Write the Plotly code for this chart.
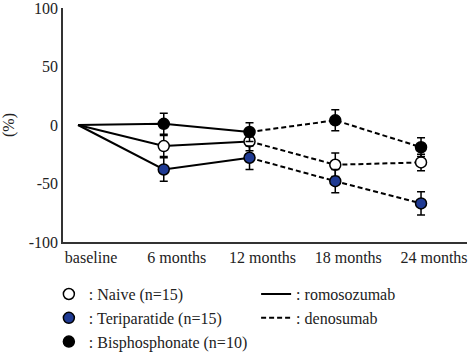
import plotly.graph_objects as go

categories = ["baseline", "6 months", "12 months", "18 months", "24 months"]
naive = [0, -18, -14, -34, -32]
naive_err = [0, 9, 8, 10, 7]
teri = [0, -38, -28, -48, -67]
teri_err = [0, 10, 10, 10, 10]
bisph = [0, 1, -6, 4, -19]
bisph_err = [0, 9, 8, 9, 8]
y_ticks = [100, 50, 0, -50, -100]
y_ticktext = ["100", "50", "0", "-50", "-100"]

FONT = "Liberation Serif"
BLUE = "#1f3a93"
FS = 16

fig = go.Figure()

# lines: solid (baseline..12 months), dashed (12..24 months)
for i, ys in enumerate([naive, teri, bisph]):
    fig.add_trace(go.Scatter(
        x=categories[:3], y=ys[:3], mode="lines",
        line=dict(color="black", width=2),
        name=": romosozumab", legend="legend2", showlegend=(i == 0),
        hoverinfo="skip"))
for i, ys in enumerate([naive, teri, bisph]):
    fig.add_trace(go.Scatter(
        x=categories[2:], y=ys[2:], mode="lines",
        line=dict(color="black", width=2, dash="5px,3px"),
        name=": denosumab", legend="legend2", showlegend=(i == 0),
        hoverinfo="skip"))

groups = [
    (": Naive (n=15)", naive, naive_err, "white"),
    (": Teriparatide (n=15)", teri, teri_err, BLUE),
    (": Bisphosphonate (n=10)", bisph, bisph_err, "black"),
]
for name, ys, errs, col in groups:
    fig.add_trace(go.Scatter(
        x=categories[1:], y=ys[1:], mode="markers",
        marker=dict(size=11, color=col, line=dict(color="black", width=1.5)),
        error_y=dict(type="data", array=errs[1:], color="black", thickness=1.5, width=4),
        name=name, legend="legend", legendgroup=name))

fig.update_layout(
    width=469, height=354,
    margin=dict(l=63, r=2, t=8, b=112, autoexpand=False),
    paper_bgcolor="white", plot_bgcolor="white",
    font=dict(family=FONT, size=FS, color="#222"),
    showlegend=True,
    xaxis=dict(type="category", range=[-0.175, 4.536], showgrid=False, zeroline=False,
               showline=True, linecolor="#333", linewidth=1.5, ticks="",
               tickfont=dict(size=FS), automargin=False, ticklabelshift=13,
               ticklabeloverflow="allow"),
    yaxis=dict(range=[-100, 100], tickvals=y_ticks, ticktext=y_ticktext,
               showgrid=False, zeroline=False, showline=True, linecolor="#333",
               linewidth=1.5, ticks="", tickfont=dict(size=FS), automargin=False,
               ticklabeloverflow="allow",
               title=dict(text="(%)", font=dict(size=FS), standoff=18)),
    legend=dict(x=-0.035, y=-0.15, xanchor="left", yanchor="top",
                bgcolor="rgba(0,0,0,0)", font=dict(size=FS), itemwidth=30,
                tracegroupgap=0),
    legend2=dict(x=0.478, y=-0.15, xanchor="left", yanchor="top",
                 bgcolor="rgba(0,0,0,0)", font=dict(size=FS), itemwidth=30,
                 tracegroupgap=0),
)

fig.write_html("out.html", config={"displayModeBar": False},
               post_script="document.body.style.margin='0';")
